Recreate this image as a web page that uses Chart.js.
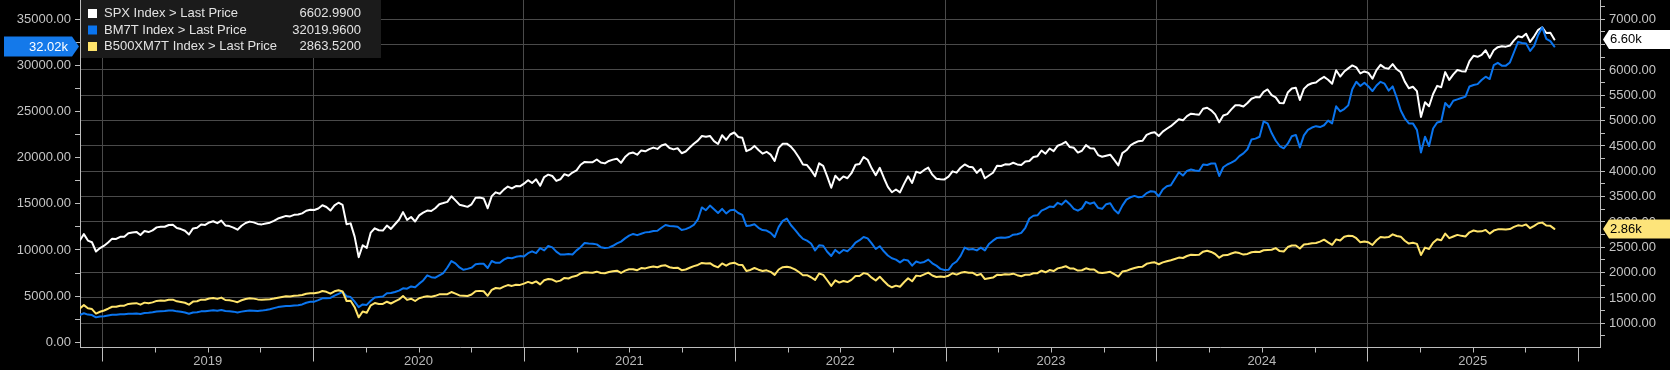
<!DOCTYPE html>
<html>
<head>
<meta charset="utf-8">
<title>SPX / BM7T / B500XM7T</title>
<script src="https://cdn.jsdelivr.net/npm/chart.js@4.4.1/dist/chart.umd.min.js"></script>
<style>
  html, body { margin: 0; padding: 0; background: #000; }
  canvas { display: block; }
</style>
</head>
<body>
<canvas id="chart" width="1670" height="370"></canvas>
<script>
// weekly closes (Fridays), first week ends 2018-11-23
const firstWeek = Date.UTC(2018, 10, 23);

const spx = [
    2633, 2760, 2633, 2600, 2417, 2486, 2532, 2596, 2671, 2665,
    2707, 2708, 2776, 2793, 2804, 2743, 2822, 2801, 2834, 2893,
    2907, 2905, 2940, 2946, 2881, 2860, 2826, 2752, 2873, 2887,
    2950, 2942, 2990, 3014, 2977, 3026, 2932, 2919, 2889, 2847,
    2926, 2979, 3007, 2992, 2962, 2952, 2970, 2986, 3023, 3067,
    3093, 3120, 3110, 3141, 3146, 3169, 3221, 3240, 3235, 3265,
    3330, 3295, 3226, 3328, 3380, 3338, 2954, 2972, 2711, 2305,
    2541, 2489, 2790, 2875, 2837, 2831, 2930, 2864, 2955, 3044,
    3194, 3041, 3098, 3009, 3130, 3185, 3225, 3216, 3271, 3351,
    3373, 3397, 3508, 3427, 3341, 3319, 3298, 3348, 3477, 3484,
    3465, 3270, 3510, 3585, 3558, 3638, 3699, 3663, 3709, 3703,
    3756, 3825, 3768, 3841, 3714, 3887, 3934, 3907, 3811, 3842,
    3943, 3913, 3975, 4020, 4129, 4185, 4180, 4181, 4233, 4174,
    4156, 4204, 4230, 4247, 4166, 4281, 4352, 4370, 4327, 4412,
    4395, 4437, 4468, 4442, 4509, 4535, 4459, 4433, 4455, 4357,
    4391, 4471, 4545, 4605, 4697, 4683, 4698, 4595, 4538, 4712,
    4621, 4726, 4766, 4677, 4663, 4398, 4432, 4501, 4419, 4349,
    4385, 4329, 4204, 4463, 4543, 4546, 4488, 4392, 4272, 4132,
    4123, 4024, 3901, 4158, 4109, 3901, 3675, 3912, 3825, 3899,
    3863, 3962, 4130, 4145, 4280, 4228, 4058, 3924, 4068, 3873,
    3693, 3586, 3640, 3583, 3752, 3901, 3771, 3993, 3965, 4026,
    4072, 3934, 3852, 3845, 3840, 3895, 3999, 3973, 4071, 4136,
    4090, 4079, 3970, 4046, 3862, 3917, 3971, 4109, 4105, 4138,
    4133, 4169, 4136, 4124, 4192, 4205, 4282, 4299, 4410, 4348,
    4450, 4399, 4505, 4536, 4582, 4478, 4464, 4370, 4406, 4516,
    4457, 4450, 4320, 4288, 4308, 4328, 4224, 4117, 4358, 4415,
    4514, 4559, 4595, 4604, 4719, 4755, 4770, 4697, 4784, 4840,
    4891, 4959, 5027, 5006, 5089, 5137, 5124, 5117, 5234, 5254,
    5204, 5123, 4967, 5100, 5128, 5223, 5303, 5305, 5278, 5347,
    5432, 5465, 5460, 5567, 5615, 5505, 5459, 5346, 5344, 5554,
    5635, 5648, 5408, 5627, 5703, 5738, 5751, 5815, 5864, 5808,
    5729, 5995, 5870, 5969, 6032, 6090, 6051, 5931, 5971, 5942,
    5827, 5997, 6101, 6041, 6026, 6115, 6013, 5955, 5770, 5639,
    5668, 5581, 5074, 5363, 5283, 5525, 5687, 5660, 5958, 5803,
    5912, 6000, 5977, 5968, 6173, 6280, 6260, 6297, 6389, 6238,
    6389, 6450, 6467, 6460, 6482, 6584, 6664, 6644, 6716, 6553,
    6664, 6792, 6840, 6729, 6734, 6602.99
];

const bm7t = [
    2960, 3140, 3000, 2950, 2700, 2790, 2830, 2910, 2980, 2990,
    3040, 3040, 3090, 3100, 3120, 3060, 3170, 3200, 3250, 3330,
    3360, 3390, 3450, 3440, 3350, 3300, 3230, 3090, 3230, 3260,
    3350, 3350, 3420, 3460, 3410, 3500, 3380, 3360, 3320, 3230,
    3320, 3390, 3430, 3420, 3390, 3430, 3490, 3580, 3700, 3810,
    3880, 3930, 3920, 3980, 4010, 4100, 4280, 4380, 4400, 4560,
    4760, 4760, 4800, 5050, 5250, 5450, 4980, 4900, 4400, 3800,
    4100, 4050, 4500, 4850, 4900, 4950, 5300, 5330, 5450, 5600,
    5850, 5800, 6050, 5950, 6350, 6700, 7250, 7050, 7000, 7250,
    7500, 8100, 8800, 8550, 8100, 7850, 7950, 8080, 8450, 8500,
    8500, 8050, 8800, 8600, 8620, 8950, 9150, 9100, 9250, 9330,
    9300, 9650, 9850, 9650, 10200, 9950, 10430, 10280, 9816, 9500,
    9500, 9550, 9500, 9950, 10300, 10750, 10700, 10680, 10600, 10300,
    10200, 10250, 10450, 10700, 10900, 11250, 11550, 11730, 11600, 11750,
    11900, 11950, 12050, 12080, 12400, 12700, 12600, 12560, 12520, 12150,
    12250, 12450, 12700, 13300, 14600, 14300, 14800, 14400, 14000, 14450,
    13950, 14300, 14350, 14000, 13800, 12600, 12650, 12780, 12400, 12150,
    12100, 11850, 11400, 12500, 13150, 13400, 12700, 12200, 11650, 11200,
    11000, 10700, 9950, 10500, 10450, 9800, 9350, 10000, 9650, 10000,
    9850, 10250, 10800, 11050, 11400, 11250, 10700, 10100, 10400, 9850,
    9400, 9100, 8950, 8650, 8950, 8850, 8300, 8750, 8600, 8700,
    8950, 8550, 8300, 7950, 7830, 7850, 8450, 8750, 9350, 10250,
    10050, 10100, 9950, 10250, 9950, 10650, 11000, 11300, 11350, 11330,
    11400, 11650, 11700, 11850, 12400, 13400, 13700, 13750, 14250, 14450,
    14700, 14650, 15100, 14900, 15350, 14950, 14450, 14250, 14500, 15200,
    15000, 15150, 14550, 14450, 14950, 15050, 14350, 13950, 14800, 15450,
    15700, 15850, 15700, 15750, 16150, 16350, 16300, 15800, 16550, 16900,
    17000, 17700, 18400, 18050, 18550, 18700, 18600, 18550, 19250, 19200,
    19350, 19350, 18000, 18950, 19250, 19450, 19700, 20150, 20450, 20900,
    21950, 22050, 22250, 23900, 23700, 22650, 21850, 21250, 21000, 21500,
    22300, 22450, 21100, 22400, 23000, 23250, 23400, 23300, 23500, 24000,
    23700, 25550, 25000, 25250, 25650, 27400, 28200, 27750, 28100, 27700,
    27200, 27800, 28200, 28000, 27250, 27700, 26500, 25100, 24250, 23700,
    23700, 23000, 20550, 22250, 21250, 23150, 23800, 23900, 25900, 25450,
    26150, 26300, 26450, 26600, 27700, 27850, 27950, 28400, 28750, 28500,
    30000, 30250, 29950, 29950, 30300, 31400, 32500, 32400, 32350, 31550,
    32100, 33300, 34100, 32850, 32600, 32019.96
];

const b500xm7t = [
    1295, 1359, 1297, 1281, 1192, 1228, 1253, 1288, 1327, 1325,
    1347, 1348, 1382, 1392, 1398, 1368, 1408, 1397, 1413, 1442,
    1449, 1447, 1464, 1466, 1433, 1422, 1405, 1368, 1428, 1435,
    1467, 1464, 1488, 1500, 1482, 1507, 1460, 1453, 1438, 1417,
    1455, 1481, 1495, 1487, 1472, 1464, 1469, 1473, 1488, 1506,
    1519, 1533, 1528, 1544, 1547, 1558, 1584, 1594, 1592, 1606,
    1638, 1621, 1584, 1631, 1653, 1629, 1440, 1447, 1318, 1118,
    1233, 1209, 1356, 1399, 1382, 1382, 1426, 1391, 1431, 1471,
    1540, 1462, 1486, 1440, 1494, 1517, 1532, 1524, 1542, 1571,
    1572, 1575, 1617, 1585, 1550, 1545, 1540, 1569, 1634, 1640,
    1633, 1543, 1659, 1697, 1686, 1725, 1754, 1738, 1760, 1758,
    1784, 1817, 1791, 1827, 1768, 1851, 1875, 1864, 1822, 1842,
    1895, 1885, 1920, 1938, 1986, 2009, 2002, 1999, 2019, 1993,
    1987, 2013, 2028, 2039, 1993, 2040, 2066, 2067, 2048, 2090,
    2084, 2106, 2122, 2107, 2136, 2145, 2106, 2091, 2098, 2049,
    2062, 2096, 2128, 2152, 2192, 2182, 2186, 2135, 2105, 2182,
    2137, 2182, 2197, 2158, 2153, 2032, 2053, 2091, 2058, 2031,
    2045, 2016, 1955, 2062, 2108, 2118, 2100, 2064, 2012, 1950,
    1950, 1909, 1856, 1983, 1955, 1850, 1738, 1847, 1803, 1834,
    1814, 1857, 1933, 1934, 1990, 1973, 1901, 1845, 1920, 1834,
    1755, 1711, 1743, 1722, 1810, 1888, 1829, 1941, 1931, 1965,
    1999, 1943, 1914, 1923, 1916, 1940, 1988, 1961, 1996, 2014,
    1997, 1997, 1949, 1974, 1873, 1888, 1902, 1956, 1953, 1968,
    1964, 1980, 1950, 1930, 1957, 1957, 1988, 1990, 2039, 2007,
    2051, 2031, 2084, 2102, 2126, 2082, 2080, 2041, 2047, 2086,
    2062, 2061, 2004, 1991, 2003, 2016, 1970, 1923, 2022, 2035,
    2067, 2091, 2111, 2118, 2174, 2193, 2204, 2166, 2202, 2224,
    2244, 2270, 2297, 2289, 2328, 2352, 2347, 2352, 2414, 2433,
    2408, 2368, 2295, 2345, 2346, 2378, 2402, 2386, 2356, 2369,
    2403, 2414, 2408, 2441, 2448, 2452, 2484, 2425, 2417, 2505,
    2536, 2536, 2477, 2555, 2566, 2580, 2584, 2611, 2650, 2596,
    2549, 2656, 2633, 2710, 2726, 2724, 2679, 2598, 2614, 2598,
    2546, 2639, 2703, 2694, 2701, 2755, 2723, 2710, 2629, 2573,
    2590, 2567, 2349, 2494, 2467, 2591, 2660, 2639, 2770, 2681,
    2714, 2745, 2726, 2712, 2796, 2832, 2811, 2815, 2843, 2770,
    2830, 2854, 2858, 2852, 2859, 2902, 2934, 2923, 2952, 2877,
    2922, 2975, 2987, 2929, 2923, 2863.52
];

const seriesNames = ['SPX Index > Last Price', 'BM7T Index > Last Price', 'B500XM7T Index > Last Price'];
const seriesColors = ['#ffffff', '#0a74ee', '#ffe46b'];
const yearLabels = [2019, 2020, 2021, 2022, 2023, 2024, 2025];

const FONT = '"Liberation Sans", Arial, sans-serif';
const AXIS = '#bdbdbd';
const GRID = '#4a4a4a';

// week -> fractional year for the linear time axis
function toYear(ms) {
    const y = new Date(ms).getUTCFullYear();
    const a = Date.UTC(y, 0, 1), b = Date.UTC(y + 1, 0, 1);
    return y + (ms - a) / (b - a);
}
const weekX = spx.map((_, i) => toYear(firstWeek + i * 7 * 864e5));
const points = arr => arr.map((v, i) => ({ x: weekX[i], y: v }));
const lastOf = arr => arr[arr.length - 1];
const lastYear = yearLabels[yearLabels.length - 1];

// value tags on the axes + legend box + x tick marks
const overlay = {
    id: 'overlay',
    afterDraw(chart) {
        const { ctx, chartArea, scales } = chart;
        const xs = scales.x;
        ctx.save();

        ctx.strokeStyle = AXIS;
        ctx.lineWidth = 1;
        xs.ticks.forEach(t => {
            const px = Math.round(xs.getPixelForValue(t.value)) + 0.5;
            const len = Number.isInteger(t.value) ? 14 : 5;
            ctx.beginPath();
            ctx.moveTo(px, chartArea.bottom);
            ctx.lineTo(px, chartArea.bottom + len);
            ctx.stroke();
        });

        // legend
        const lastVals = [lastOf(spx), lastOf(bm7t), lastOf(b500xm7t)];
        ctx.fillStyle = '#1b1b1b';
        ctx.fillRect(chartArea.left + 1, 0, 300, 58);
        ctx.font = '13px ' + FONT;
        ctx.textBaseline = 'middle';
        seriesNames.forEach((name, i) => {
            const cy = 13 + i * 16.5;
            ctx.fillStyle = seriesColors[i];
            ctx.fillRect(88, cy - 4, 9, 9);
            ctx.fillStyle = '#e2e2e2';
            ctx.textAlign = 'left';
            ctx.fillText(name, 104, cy + 0.5);
            ctx.textAlign = 'right';
            ctx.fillText(lastVals[i].toFixed(4), 361, cy + 0.5);
        });

        const fmtK = v => (v / 1000).toFixed(2) + 'k';

        // left tag (BM7T)
        let y = scales.yL.getPixelForValue(lastOf(bm7t));
        ctx.fillStyle = '#1479ea';
        ctx.beginPath();
        ctx.moveTo(4, y - 10); ctx.lineTo(72, y - 10); ctx.lineTo(79, y);
        ctx.lineTo(72, y + 10); ctx.lineTo(4, y + 10); ctx.closePath();
        ctx.fill();
        ctx.fillStyle = '#ffffff';
        ctx.textAlign = 'right';
        ctx.fillText(fmtK(lastOf(bm7t)), 68, y + 0.5);

        // right tags (SPX, B500XM7T)
        [[spx, '#ffffff'], [b500xm7t, '#fde47a']].forEach(([arr, bg]) => {
            const yy = scales.yR.getPixelForValue(lastOf(arr));
            ctx.fillStyle = bg;
            ctx.beginPath();
            ctx.moveTo(1603, yy); ctx.lineTo(1609, yy - 9.5); ctx.lineTo(1670, yy - 9.5);
            ctx.lineTo(1670, yy + 9.5); ctx.lineTo(1609, yy + 9.5); ctx.closePath();
            ctx.fill();
            ctx.fillStyle = '#000000';
            ctx.textAlign = 'left';
            ctx.fillText(fmtK(lastOf(arr)), 1610, yy + 0.5);
        });

        ctx.restore();
    }
};

const ctx = document.getElementById('chart').getContext('2d');
new Chart(ctx, {
    type: 'line',
    data: {
        datasets: [
            { label: seriesNames[0], data: points(spx), borderColor: seriesColors[0], yAxisID: 'yR', order: 2 },
            { label: seriesNames[1], data: points(bm7t), borderColor: seriesColors[1], yAxisID: 'yL', order: 1 },
            { label: seriesNames[2], data: points(b500xm7t), borderColor: seriesColors[2], yAxisID: 'yR', order: 0 }
        ]
    },
    options: {
        responsive: false,
        devicePixelRatio: 1,
        animation: false,
        parsing: false,
        layout: { padding: 0 },
        elements: {
            point: { radius: 0 },
            line: { borderWidth: 2, tension: 0, borderJoinStyle: 'round', borderCapStyle: 'round' }
        },
        plugins: { legend: { display: false }, tooltip: { enabled: false } },
        scales: {
            x: {
                type: 'linear',
                min: 2018.894,
                max: 2026.104,
                afterBuildTicks: s => {
                    const t = [];
                    for (let q = yearLabels[0] * 4; q <= (lastYear + 1) * 4; q++) t.push({ value: q / 4 });
                    s.ticks = t;
                },
                afterFit: s => { s.height = 22.5; s.paddingLeft = 0; s.paddingRight = 0; },
                grid: {
                    drawTicks: false,
                    color: c => (c.tick && Number.isInteger(c.tick.value) && c.tick.value <= lastYear) ? GRID : 'rgba(0,0,0,0)'
                },
                border: { display: true, color: AXIS, width: 1 },
                ticks: {
                    autoSkip: false,
                    maxRotation: 0,
                    minRotation: 0,
                    padding: 6,
                    color: '#b8b8b8',
                    font: { family: FONT, size: 13 },
                    callback: v => yearLabels.includes(v - 0.5) ? String(v - 0.5) : ''
                }
            },
            yL: {
                type: 'linear',
                position: 'left',
                min: -563,
                max: 37057,
                afterBuildTicks: s => {
                    const t = [];
                    for (let v = 0; v <= 35000; v += 2500) t.push({ value: v });
                    s.ticks = t;
                },
                afterFit: s => { s.width = 80; s.paddingTop = 0; s.paddingBottom = 0; },
                grid: { drawOnChartArea: false, drawTicks: true, tickLength: 5, tickColor: AXIS },
                border: { display: true, color: AXIS, width: 1 },
                ticks: {
                    autoSkip: false,
                    padding: 4,
                    color: '#c4c4c4',
                    font: { family: FONT, size: 13 },
                    callback: v => v % 5000 === 0 ? v.toFixed(2) : ''
                }
            },
            yR: {
                type: 'linear',
                position: 'right',
                min: 522.4,
                max: 7380.9,
                afterBuildTicks: s => {
                    const t = [];
                    for (let v = 750; v <= 7250; v += 250) t.push({ value: v });
                    s.ticks = t;
                },
                afterFit: s => { s.width = 70; s.paddingTop = 0; s.paddingBottom = 0; },
                grid: {
                    drawTicks: true,
                    tickLength: 5,
                    tickColor: AXIS,
                    color: c => (c.tick && c.tick.value % 500 === 0) ? GRID : 'rgba(0,0,0,0)'
                },
                border: { display: true, color: AXIS, width: 1 },
                ticks: {
                    autoSkip: false,
                    padding: 4,
                    color: '#c4c4c4',
                    font: { family: FONT, size: 13 },
                    callback: v => (v % 500 === 0 && v >= 1000 && v <= 7000) ? v.toFixed(2) : ''
                }
            }
        }
    },
    plugins: [overlay]
});
</script>
</body>
</html>
